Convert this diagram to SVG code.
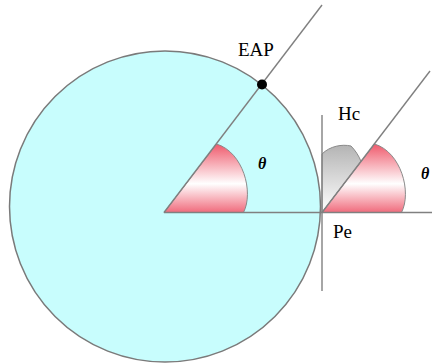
<svg xmlns="http://www.w3.org/2000/svg" width="432" height="363" viewBox="0 0 432 363">
<style>
  .ln { stroke: #808080; stroke-width: 1.4; fill: none; }
  .wedge { fill: url(#pink); stroke: #8a8a8a; stroke-width: 1; }
  .gwedge { fill: url(#gray); stroke: #8a8a8a; stroke-width: 1; }
  .lbl { font-family: "Liberation Serif", "Times New Roman", serif; font-size: 19px; fill: #000; }
  .th { font-family: "Liberation Serif", "Times New Roman", serif; font-size: 16px; font-weight: bold; font-style: italic; fill: #000; }
</style>
<defs>
  <linearGradient id="pink" x1="0" y1="0" x2="0" y2="1">
    <stop offset="0" stop-color="#ef5a6c"/>
    <stop offset="0.58" stop-color="#ffffff"/>
    <stop offset="1" stop-color="#f06b7c"/>
  </linearGradient>
  <linearGradient id="gray" x1="0" y1="0" x2="0" y2="1">
    <stop offset="0" stop-color="#b4b4b4"/>
    <stop offset="1" stop-color="#ffffff"/>
  </linearGradient>
  <path id="wedgeShape" d="M0,0 L52.5,-68.5 C79,-60.5 90,-20.5 79.5,0 Z"/>
</defs>

<g id="earth">
  <circle cx="165" cy="206.5" r="155.5" fill="#c8fdfd" stroke="#7a7a7a" stroke-width="1.5"/>
</g>

<g id="angle-centre">
  <use href="#wedgeShape" class="wedge" x="164" y="212.5"/>
</g>

<g id="angle-hc">
  <path class="gwedge" d="M322,212.5 L322,154 C330,146 342,144 351,146 C355,150 359,156 361,161.4 Z"/>
</g>

<g id="angle-pe">
  <use href="#wedgeShape" class="wedge" x="322" y="212.5"/>
</g>

<g id="connectors">
  <line class="ln" x1="164" y1="212.5" x2="322" y2="5"/>
  <line class="ln" x1="164" y1="212.5" x2="432" y2="212.5"/>
  <line class="ln" x1="322" y1="115" x2="322" y2="291"/>
  <line class="ln" x1="322" y1="212.5" x2="430" y2="71"/>
</g>

<g id="eap">
  <circle cx="262" cy="84.5" r="5" fill="#000"/>
  <text class="lbl" x="238" y="56">EAP</text>
</g>

<g id="labels">
  <text class="lbl" x="338" y="120">Hc</text>
  <text class="lbl" x="333" y="238">Pe</text>
  <text class="th" x="258" y="169">θ</text>
  <text class="th" x="421" y="179">θ</text>
</g>
</svg>
